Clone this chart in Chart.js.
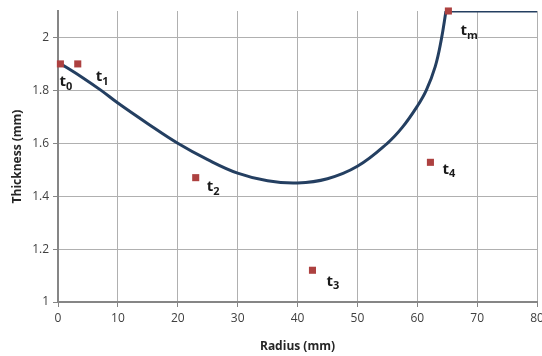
<!DOCTYPE html>
<html lang="en">

<head>
    <meta charset="UTF-8">
    <title>Thickness vs Radius</title>
    <script src="https://cdn.jsdelivr.net/npm/chart.js"></script>
    <style>
        body { margin: 0; background: #fff; }
    </style>
</head>

<body>
    <canvas id="chart" width="542" height="356"></canvas>
    <script>
        // Profile curve (radius mm, thickness mm)
        const curveX = [0.5, 4, 7.2, 10, 15, 20, 25, 30, 35, 40, 45, 50, 55, 57.5, 60, 61.5, 63, 64, 64.8];
        const curveY = [1.9, 1.85, 1.8, 1.752, 1.674, 1.6, 1.538, 1.487, 1.458, 1.45, 1.466, 1.513, 1.6, 1.66, 1.74, 1.8, 1.89, 1.99, 2.1];
        // Flat part after t_m
        const flatX = [64.8, 80];
        const flatY = [2.1, 2.1];
        // Control points
        const pointX = [0.4, 3.3, 23, 42.5, 62.2, 65.2];
        const pointY = [1.9, 1.9, 1.47, 1.12, 1.528, 2.1];
        const pointSubs = ["0", "1", "2", "3", "4", "m"];
        // Axis ticks
        const xTicks = [0, 10, 20, 30, 40, 50, 60, 70, 80];
        const yTicks = [1, 1.2, 1.4, 1.6, 1.8, 2];

        const toXY = (xs, ys) => xs.map((x, i) => ({ x: x, y: ys[i] }));

        // label offsets from each marker, in px
        const labelOffsets = [[-1, 18], [18, 13], [11, 9], [14, 11], [12, 7], [12, 20]];

        const labelPlugin = {
            id: "pointLabels",
            afterDatasetsDraw(chart) {
                const ctx = chart.ctx;
                const xs = chart.scales.x, ys = chart.scales.y;
                ctx.save();
                ctx.fillStyle = "#1a1a1a";
                ctx.textBaseline = "middle";
                pointSubs.forEach((s, i) => {
                    const px = xs.getPixelForValue(pointX[i]) + labelOffsets[i][0];
                    const py = ys.getPixelForValue(pointY[i]) + labelOffsets[i][1];
                    ctx.font = "bold 15px 'Open Sans'";
                    ctx.textAlign = "left";
                    ctx.fillText("t", px, py);
                    const w = ctx.measureText("t").width;
                    ctx.font = "bold 11px 'Open Sans'";
                    ctx.fillText(s, px + w, py + 5);
                });
                ctx.restore();
            }
        };

        new Chart(document.getElementById("chart"), {
            type: "scatter",
            data: {
                datasets: [{
                    data: toXY(pointX, pointY),
                    showLine: false,
                    pointStyle: "rect",
                    pointRadius: 5,
                    pointHoverRadius: 5,
                    backgroundColor: "#ad4140",
                    borderColor: "#ad4140",
                    borderWidth: 0,
                    clip: false,
                    order: 0
                }, {
                    data: toXY(curveX, curveY),
                    showLine: true,
                    tension: 0.4,
                    borderColor: "#243f61",
                    borderWidth: 3,
                    pointRadius: 0,
                    order: 1
                }, {
                    data: toXY(flatX, flatY),
                    showLine: true,
                    tension: 0,
                    borderColor: "#243f61",
                    borderWidth: 3,
                    pointRadius: 0,
                    order: 1
                }]
            },
            options: {
                responsive: false,
                animation: false,
                layout: { padding: { top: 11, right: 4, left: 0, bottom: 0 } },
                plugins: { legend: { display: false }, tooltip: { enabled: false } },
                scales: {
                    x: {
                        type: "linear",
                        min: 0,
                        max: 80,
                        afterFit: s => { s.height = 54; s.paddingLeft = 0; s.paddingRight = 0; },
                        afterBuildTicks: s => { s.ticks = xTicks.map(v => ({ value: v })); },
                        ticks: {
                            color: "#404040", font: { family: "'Open Sans'", size: 12 }, padding: 4, maxRotation: 0,
                            callback: v => String(v)
                        },
                        grid: { color: "#b0b0b0", lineWidth: 1, tickLength: 5, tickColor: "#868686" },
                        border: { color: "#868686", width: 2 },
                        title: {
                            display: true, text: "Radius (mm)", color: "#262626",
                            font: { family: "'Open Sans'", size: 12, weight: "bold" },
                            padding: { top: 0, bottom: 2 }
                        }
                    },
                    y: {
                        type: "linear",
                        min: 1,
                        max: 2.1,
                        afterFit: s => { s.width = 58; s.paddingTop = 0; s.paddingBottom = 0; },
                        afterBuildTicks: s => { s.ticks = yTicks.map(v => ({ value: v })); },
                        ticks: {
                            color: "#404040", font: { family: "'Open Sans'", size: 12 }, padding: 4,
                            callback: v => String(v)
                        },
                        grid: { color: "#b0b0b0", lineWidth: 1, tickLength: 5, tickColor: "#868686" },
                        border: { color: "#868686", width: 2 },
                        title: {
                            display: true, text: "Thickness (mm)", color: "#262626",
                            font: { family: "'Open Sans'", size: 12, weight: "bold" },
                            padding: { top: 10, bottom: 0 }
                        }
                    }
                }
            },
            plugins: [labelPlugin]
        });
    </script>
</body>

</html>
